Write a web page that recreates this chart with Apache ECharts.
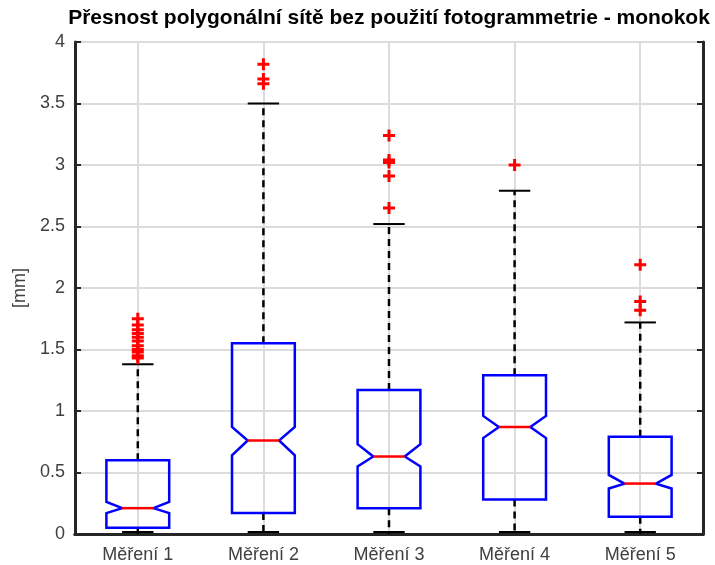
<!DOCTYPE html>
<html>
<head>
<meta charset="utf-8">
<script src="https://cdn.jsdelivr.net/npm/echarts@6/dist/echarts.min.js"></script>
<style>
  html, body { margin: 0; padding: 0; background: #fff; }
  #chart { width: 715px; height: 565px; }
</style>
</head>
<body>
<div id="chart"></div>
<script>
// data
const categories = ['Měření 1', 'Měření 2', 'Měření 3', 'Měření 4', 'Měření 5']
const q1 = [0.05, 0.17, 0.21, 0.28, 0.14]
const median = [0.21, 0.76, 0.63, 0.87, 0.41]
const q3 = [0.60, 1.55, 1.17, 1.29, 0.79]
const notchLow = [0.17, 0.64, 0.55, 0.78, 0.37]
const notchHigh = [0.26, 0.87, 0.73, 0.96, 0.48]
const whiskerLow = [0, 0, 0, 0, 0]
const whiskerHigh = [1.38, 3.50, 2.52, 2.79, 1.72]
const outliers = [
  [1.75, 1.70, 1.66, 1.63, 1.60, 1.57, 1.53, 1.50, 1.48, 1.45, 1.43],
  [3.82, 3.70, 3.66],
  [3.24, 3.04, 3.02, 2.91, 2.65],
  [3.00],
  [2.19, 1.89, 1.82]
]
const yTicks = { min: 0, max: 4, interval: 0.5 }

const axisColor = '#262626'
const textColor = '#404040'
const gridColor = '#dcdcdc'
const font = 'Liberation Sans, Arial, sans-serif'

const boxData = categories.map((c, i) => [i, q1[i], median[i], q3[i], notchLow[i], notchHigh[i], whiskerLow[i], whiskerHigh[i]])
const outlierData = []
outliers.forEach((list, i) => list.forEach(v => outlierData.push([i, v])))

function renderBox(params, api) {
  const i = api.value(0)
  const band = api.size([1, 0])[0]
  const hw = band * 0.25
  const cw = band * 0.125
  const x = api.coord([i, 0])[0]
  const y = v => api.coord([i, v])[1]
  const yq1 = y(api.value(1)), ymed = y(api.value(2)), yq3 = y(api.value(3))
  const ynl = y(api.value(4)), ynh = y(api.value(5))
  const ywl = y(api.value(6)), ywh = y(api.value(7))
  const dash = { stroke: '#000', lineWidth: 2.5, lineDash: [7, 5] }
  const cap = { stroke: '#000', lineWidth: 2 }
  return {
    type: 'group',
    children: [
      { type: 'line', shape: { x1: x, y1: yq3, x2: x, y2: ywh }, style: dash },
      { type: 'line', shape: { x1: x, y1: yq1, x2: x, y2: ywl }, style: dash },
      { type: 'line', shape: { x1: x - cw, y1: ywh, x2: x + cw, y2: ywh }, style: cap },
      { type: 'line', shape: { x1: x - cw, y1: ywl - 2, x2: x + cw, y2: ywl - 2 }, style: cap },
      {
        type: 'polygon',
        shape: {
          points: [
            [x - hw, yq1], [x - hw, ynl], [x - hw / 2, ymed], [x - hw, ynh], [x - hw, yq3],
            [x + hw, yq3], [x + hw, ynh], [x + hw / 2, ymed], [x + hw, ynl], [x + hw, yq1]
          ]
        },
        style: { fill: 'none', stroke: '#0000ff', lineWidth: 2.5 }
      },
      { type: 'line', shape: { x1: x - hw / 2, y1: ymed, x2: x + hw / 2, y2: ymed }, style: { stroke: '#ff0000', lineWidth: 2.5 } }
    ]
  }
}

const chart = echarts.init(document.getElementById('chart'))
chart.setOption({
  animation: false,
  title: {
    text: 'Přesnost polygonální sítě bez použití fotogrammetrie - monokok',
    left: 389,
    top: 8,
    padding: 0,
    textAlign: 'center',
    textStyle: { fontFamily: font, fontSize: 21, fontWeight: 'bold', color: '#000' }
  },
  grid: { left: 75, right: 12, top: 42, bottom: 31 },
  xAxis: [{
    type: 'category',
    data: categories,
    boundaryGap: true,
    axisLine: { lineStyle: { color: axisColor, width: 3 } },
    axisTick: { inside: true, alignWithLabel: true, length: 6, lineStyle: { color: axisColor, width: 2 } },
    axisLabel: { color: textColor, fontFamily: font, fontSize: 18, margin: 12 },
    splitLine: { show: true, alignWithLabel: true, lineStyle: { color: gridColor, width: 2 } }
  }, {
    type: 'category',
    data: categories,
    position: 'top',
    axisLine: { lineStyle: { color: axisColor, width: 3 } },
    axisTick: { inside: true, alignWithLabel: true, length: 6, lineStyle: { color: axisColor, width: 2 } },
    axisLabel: { show: false },
    splitLine: { show: false }
  }],
  yAxis: [{
    type: 'value',
    min: yTicks.min,
    max: yTicks.max,
    interval: yTicks.interval,
    name: '[mm]',
    nameLocation: 'middle',
    nameGap: 46,
    nameTextStyle: { color: textColor, fontFamily: font, fontSize: 18 },
    axisLine: { show: true, lineStyle: { color: axisColor, width: 3 } },
    axisTick: { show: true, inside: true, length: 6, lineStyle: { color: axisColor, width: 2 } },
    axisLabel: { color: textColor, fontFamily: font, fontSize: 18, margin: 10 },
    splitLine: { show: true, lineStyle: { color: gridColor, width: 2 } }
  }, {
    type: 'value',
    position: 'right',
    min: yTicks.min,
    max: yTicks.max,
    interval: yTicks.interval,
    axisLine: { show: true, lineStyle: { color: axisColor, width: 3 } },
    axisTick: { show: true, inside: true, length: 6, lineStyle: { color: axisColor, width: 2 } },
    axisLabel: { show: false },
    splitLine: { show: false }
  }],
  series: [{
    type: 'custom',
    renderItem: renderBox,
    encode: { x: 0, y: [1, 2, 3, 4, 5, 6, 7] },
    data: boxData,
    z: 3
  }, {
    type: 'scatter',
    data: outlierData,
    symbol: 'path://M3.75,0h2.5v3.75h3.75v2.5h-3.75v3.75h-2.5v-3.75h-3.75v-2.5h3.75z',
    symbolSize: 12,
    itemStyle: { color: '#ff0000', opacity: 1 },
    z: 4
  }]
})
</script>
</body>
</html>
